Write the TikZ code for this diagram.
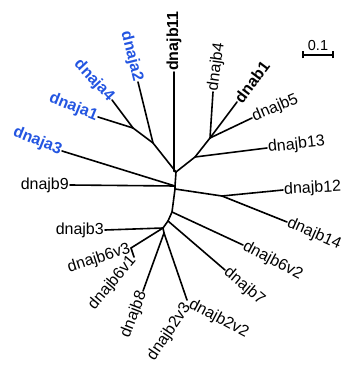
\documentclass[tikz,border=0pt]{standalone}
\usepackage{fontspec}
\setmainfont{Liberation Sans}
\definecolor{jablue}{RGB}{35,85,225}
\begin{document}
\begin{tikzpicture}[x=1pt,y=-1pt,
  branch/.style={line width=1.6pt, line cap=round},
  leaf/.style={font=\fontsize{16}{18}\selectfont, inner sep=1pt, text=black},
  bleaf/.style={leaf, font=\fontsize{16}{18}\selectfont\bfseries},
  ja/.style={bleaf, text=jablue}]
\useasboundingbox (0,0) rectangle (347,366);

% internal nodes of the tree
\coordinate (C1) at (176,172);
\coordinate (C2) at (175,186);
\coordinate (C3) at (175,189);
\coordinate (D1) at (153,143);
\coordinate (D2) at (133,128);
\coordinate (B) at (195,157);
\coordinate (A) at (210,138);
\coordinate (E) at (222,196);
\coordinate (F) at (172,212);
\coordinate (G) at (168,221);
\coordinate (H) at (163,228);
\coordinate (I) at (131,248);
\coordinate (J) at (164,233);
\coordinate (K) at (187,300);

% leaves
\node[bleaf, rotate=90, anchor=west] (b11) at (174,72) {dnajb11};
\node[ja, rotate=-76, anchor=east] (a2) at (138,82) {dnaja2};
\node[ja, rotate=-47, anchor=east] (a4) at (112,100) {dnaja4};
\node[ja, rotate=-22, anchor=east] (a1) at (98,117) {dnaja1};
\node[ja, rotate=-22, anchor=east] (a3) at (62,151) {dnaja3};
\node[leaf, anchor=east] (b9) at (70,185) {dnajb9};
\node[leaf, rotate=82, anchor=west] (b4) at (213,92) {dnajb4};
\node[bleaf, rotate=53, anchor=west] (ab1) at (237,102) {dnab1};
\node[leaf, rotate=23, anchor=west] (b5) at (252,118) {dnajb5};
\node[leaf, rotate=6, anchor=west] (b13) at (267,148) {dnajb13};
\node[leaf, rotate=3, anchor=west] (b12) at (283,190) {dnajb12};
\node[leaf, rotate=-24, anchor=west] (b14) at (287,222) {dnajb14};
\node[leaf, rotate=-28, anchor=west] (b6v2) at (243,245) {dnajb6v2};
\node[leaf, rotate=-40, anchor=west] (b7) at (225,270) {dnajb7};
\node[leaf, anchor=east] (b3) at (105,230) {dnajb3};
\node[leaf, rotate=18, anchor=east] (b6v3) at (I) {dnajb6v3};
\node[leaf, rotate=50, anchor=east] (b6v1) at (134,257) {dnajb6v1};
\node[leaf, rotate=69, anchor=east] (b8) at (143,291) {dnajb8};
\node[leaf, rotate=56, anchor=east] (b2v3) at (188,304) {dnajb2v3};
\node[leaf, rotate=-28, anchor=west] (b2v2) at (189,303) {dnajb2v2};

% branches
\draw[branch] (b11.west) -- (174,171) -- (C1);
\draw[branch] (C1) -- (D1) -- (D2);
\draw[branch] (D1) -- (a2.east);
\draw[branch] (D2) -- (a4.east);
\draw[branch] (D2) -- (a1.east);
\draw[branch] (C1) -- (B) -- (A);
\draw[branch] (A) -- (b4.west);
\draw[branch] (A) -- (ab1.west);
\draw[branch] (A) -- (b5.west);
\draw[branch] (B) -- (b13.west);
\draw[branch] (C1) -- (C2) -- (C3) -- (F) -- (G) -- (H) -- (J);
\draw[branch] (C2) -- (a3.east);
\draw[branch] (C2) -- (b9.east);
\draw[branch] (C3) -- (E);
\draw[branch] (E) -- (b12.west);
\draw[branch] (E) -- (b14.west);
\draw[branch] (F) -- (b6v2.west);
\draw[branch] (G) -- (b7.west);
\draw[branch] (H) -- (b3.east);
\draw[branch] (H) -- (I) -- (b6v1.east);
\draw[branch] (J) -- (b8.east);
\draw[branch] (J) -- (K);

% scale bar
\coordinate (sbL) at (303,55);
\coordinate (sbR) at (333,55);
\draw[line width=1.3pt] (sbL) -- (sbR);
\draw[line width=1.3pt] ([yshift=-3.5pt]sbL) -- ([yshift=3.5pt]sbL);
\draw[line width=1.3pt] ([yshift=-3.5pt]sbR) -- ([yshift=3.5pt]sbR);
\node[font=\fontsize{14.5}{16}\selectfont, inner sep=1pt, anchor=base] (sblabel) at (318,51) {0.1};
\end{tikzpicture}
\end{document}
